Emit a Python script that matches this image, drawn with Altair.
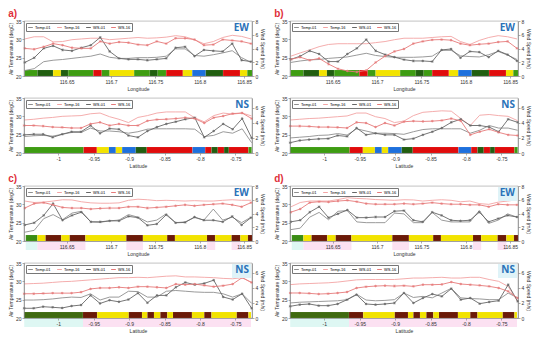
import altair as alt
import pandas as pd

# ---------------- shared x positions ----------------
LON = [116.6029, 116.6135, 116.6242, 116.6348, 116.6454, 116.6560, 116.6666, 116.6773, 116.6879,
       116.6985, 116.7091, 116.7197, 116.7304, 116.7410, 116.7516, 116.7622, 116.7728, 116.7835,
       116.7941, 116.8047, 116.8153, 116.8259, 116.8366, 116.8472, 116.8578]
LAT = [-1.0482, -1.0348, -1.0214, -1.0080, -0.9946, -0.9813, -0.9679, -0.9545, -0.9411, -0.9277,
       -0.9144, -0.9010, -0.8876, -0.8742, -0.8608, -0.8475, -0.8341, -0.8207, -0.8073, -0.7939,
       -0.7806, -0.7672, -0.7538, -0.7404, -0.7270]

LON_TICKS = [116.65, 116.7, 116.75, 116.8, 116.85]
LAT_TICKS = [-1, -0.95, -0.9, -0.85, -0.8, -0.75]
LON_DOMAIN = [116.602, 116.8589]
LAT_DOMAIN = [-1.0485, -0.7265]
TEMP_TICKS = [20, 25, 30, 35]

# ---------------- panel a ----------------
A_EW_T01 = [21.5, 22.0, 23.9, 24.3, 24.5, 24.8, 25.1, 25.4, 26.0, 25.1, 24.8, 24.8, 25.0, 25.0, 25.1, 25.4, 27.4, 27.4, 25.6, 25.4, 25.8, 26.3, 26.9, 25.0, 23.7]
A_EW_T16 = [30.1, 30.7, 30.7, 29.3, 29.4, 29.9, 30.1, 30.3, 30.3, 29.9, 30.1, 30.3, 30.5, 30.3, 30.4, 30.6, 31.0, 30.7, 29.9, 28.8, 29.4, 30.5, 31.1, 30.8, 30.1]
A_EW_W01 = [1.97, 2.65, 4.02, 4.39, 3.79, 3.66, 4.11, 4.48, 5.62, 3.57, 2.56, 2.42, 2.42, 2.29, 2.42, 2.56, 4.11, 4.25, 2.88, 3.79, 3.66, 3.57, 4.71, 2.29, 2.10]
A_EW_W16 = [4.02, 3.89, 4.25, 4.71, 4.48, 4.11, 4.02, 4.02, 5.03, 4.71, 4.94, 4.85, 4.57, 4.48, 5.03, 4.71, 5.49, 5.49, 5.30, 4.48, 4.57, 5.30, 5.17, 5.03, 4.71]
A_NS_T01 = [24.5, 24.7, 24.8, 24.6, 25.1, 25.6, 25.6, 26.8, 26.0, 26.0, 25.8, 25.4, 25.8, 26.5, 26.6, 26.6, 26.6, 26.6, 26.5, 24.5, 24.8, 25.8, 25.4, 26.6, 22.8]
A_NS_T16 = [29.0, 29.2, 29.5, 29.7, 30.0, 30.1, 30.2, 30.7, 30.9, 29.9, 29.2, 28.3, 29.7, 30.2, 30.9, 31.2, 31.2, 31.2, 29.6, 28.5, 30.2, 30.9, 30.6, 30.9, 30.1]
A_NS_W01 = [2.41, 2.49, 2.49, 2.08, 2.49, 2.82, 2.82, 3.65, 2.61, 3.24, 3.15, 2.32, 2.08, 2.91, 3.44, 3.86, 4.15, 4.48, 4.69, 2.08, 2.91, 3.86, 3.15, 4.57, 1.99]
A_NS_W16 = [3.65, 3.65, 3.57, 3.44, 3.40, 3.32, 3.32, 3.86, 4.07, 3.65, 3.86, 3.65, 3.65, 4.27, 4.44, 4.48, 4.57, 4.69, 4.57, 3.98, 4.69, 4.90, 5.23, 5.31, 4.57]

# ---------------- panel b ----------------
B_EW_T01 = [23.7, 24.1, 24.4, 24.5, 24.8, 25.0, 25.2, 25.7, 26.2, 25.6, 25.3, 25.1, 25.1, 25.1, 25.2, 25.4, 27.0, 27.0, 25.5, 25.3, 25.2, 25.8, 26.7, 25.7, 24.5]
B_EW_T16 = [25.4, 26.3, 27.1, 28.0, 28.6, 28.8, 28.8, 28.8, 28.8, 29.1, 29.4, 29.9, 30.3, 30.3, 30.3, 30.5, 30.7, 30.8, 29.4, 28.6, 29.7, 30.5, 31.0, 30.7, 30.1]
B_EW_W01 = [2.42, 2.88, 3.66, 3.20, 2.10, 2.10, 3.20, 4.02, 5.30, 3.66, 3.11, 2.74, 2.38, 2.19, 2.19, 2.10, 3.79, 3.93, 2.65, 3.57, 3.47, 2.74, 3.66, 3.11, 2.19]
B_EW_W16 = [2.42, 2.74, 2.29, 2.56, 1.74, 1.05, 0.73, 0.59, 0.82, 1.97, 2.88, 3.57, 3.93, 4.71, 5.03, 5.26, 5.30, 5.21, 4.71, 4.48, 4.62, 4.71, 4.94, 5.03, 4.02]
B_NS_T01 = [24.1, 24.3, 24.5, 24.8, 24.9, 25.3, 24.9, 26.6, 26.0, 25.4, 25.4, 25.3, 25.1, 25.8, 26.4, 26.6, 26.6, 26.6, 26.6, 25.4, 26.2, 27.5, 26.8, 26.8, 26.2]
B_NS_T16 = [29.0, 29.2, 29.4, 29.5, 29.7, 29.9, 30.1, 30.9, 30.9, 29.9, 29.4, 28.3, 28.7, 30.2, 31.1, 31.3, 31.5, 31.4, 29.4, 27.5, 30.3, 30.5, 30.2, 30.0, 28.8]
B_NS_W01 = [1.37, 1.66, 1.78, 1.87, 1.91, 2.32, 2.20, 3.32, 2.41, 2.61, 2.41, 2.41, 1.78, 1.91, 2.41, 2.82, 3.32, 4.07, 4.48, 3.65, 3.65, 3.44, 2.82, 4.48, 4.07]
B_NS_W16 = [3.57, 3.57, 3.53, 3.44, 3.44, 3.40, 3.32, 4.07, 3.98, 3.44, 3.98, 3.65, 4.15, 4.23, 4.19, 4.23, 4.32, 4.57, 4.27, 2.41, 2.82, 3.15, 2.74, 2.41, 2.32]

# ---------------- panel c ----------------
C_EW_T01 = [22.4, 22.9, 26.1, 27.2, 25.8, 27.6, 28.1, 25.2, 25.1, 25.5, 25.7, 27.2, 26.5, 25.2, 25.7, 27.4, 25.0, 25.2, 26.4, 25.7, 28.7, 25.7, 26.5, 25.0, 26.5]
C_EW_T16 = [30.9, 30.5, 30.6, 30.9, 31.25, 31.2, 30.7, 30.4, 30.3, 30.3, 30.4, 31.1, 31.4, 31.25, 31.0, 31.1, 31.0, 30.9, 31.0, 30.9, 30.9, 31.1, 31.25, 31.1, 31.1]
C_EW_W01 = [2.33, 2.65, 3.72, 5.44, 3.02, 3.72, 4.19, 2.79, 2.79, 2.93, 2.93, 3.58, 3.40, 2.28, 2.47, 3.81, 2.65, 2.70, 3.49, 3.02, 3.02, 2.79, 3.58, 2.33, 3.40]
C_EW_W16 = [4.79, 5.44, 5.58, 5.26, 4.88, 4.79, 4.79, 4.65, 4.74, 4.79, 4.79, 4.98, 4.98, 4.79, 4.88, 4.98, 5.12, 5.26, 5.12, 5.26, 5.35, 5.44, 5.26, 4.98, 5.58]
C_NS_T01 = [24.9, 24.9, 25.0, 25.2, 25.5, 25.7, 25.6, 26.6, 24.9, 25.7, 25.7, 27.3, 27.2, 25.7, 25.7, 27.3, 27.5, 27.3, 27.1, 27.0, 27.0, 26.6, 25.7, 26.6, 24.0]
C_NS_T16 = [29.3, 29.4, 29.5, 29.7, 29.9, 30.0, 30.2, 30.4, 30.6, 30.8, 31.0, 31.0, 31.1, 31.0, 31.2, 31.4, 31.5, 31.2, 31.2, 31.1, 31.0, 30.8, 30.7, 31.0, 29.6]
C_NS_W01 = [1.29, 1.29, 1.50, 1.42, 1.33, 1.59, 1.72, 3.00, 1.93, 2.36, 2.15, 2.45, 3.30, 2.02, 3.00, 3.00, 4.08, 4.72, 4.42, 4.59, 5.02, 2.79, 2.45, 3.22, 1.29]
C_NS_W16 = [3.22, 3.22, 3.26, 3.30, 3.30, 3.30, 3.43, 3.86, 3.99, 3.99, 4.08, 3.99, 4.16, 4.16, 4.08, 3.99, 4.50, 4.42, 4.50, 4.33, 4.16, 4.29, 4.50, 5.36, 4.72]

# ---------------- panel d ----------------
D_EW_T01 = [23.1, 23.5, 26.5, 27.8, 25.8, 28.1, 28.3, 25.2, 25.0, 25.0, 25.0, 27.6, 27.4, 25.0, 25.0, 27.8, 25.7, 25.2, 25.2, 25.2, 28.3, 24.8, 25.7, 27.4, 26.5]
D_EW_T16 = [29.3, 30.5, 30.9, 30.9, 30.9, 31.3, 31.8, 31.6, 31.5, 31.3, 31.2, 31.1, 31.25, 31.2, 30.9, 31.1, 31.25, 31.1, 30.7, 30.9, 30.2, 30.0, 30.6, 30.9, 31.25]
D_EW_W01 = [2.79, 3.02, 4.19, 4.98, 3.40, 3.95, 4.51, 3.40, 3.40, 3.49, 3.49, 4.33, 4.42, 3.02, 2.79, 4.19, 3.72, 3.02, 2.93, 3.02, 4.19, 2.79, 3.26, 3.72, 3.49]
D_EW_W16 = [4.19, 4.65, 5.58, 5.72, 5.67, 5.81, 5.91, 5.72, 5.44, 5.35, 5.35, 5.35, 5.44, 5.35, 5.44, 5.58, 5.44, 5.35, 5.35, 5.26, 5.26, 4.98, 5.35, 5.26, 5.26]
D_NS_T01 = [24.1, 24.3, 24.4, 24.5, 24.6, 24.7, 25.0, 26.5, 24.9, 24.7, 24.8, 25.0, 26.8, 25.6, 25.9, 25.5, 26.8, 28.1, 25.5, 25.3, 25.2, 25.0, 25.0, 26.8, 25.5]
D_NS_T16 = [29.1, 29.3, 29.4, 29.5, 29.6, 29.8, 30.1, 30.4, 30.5, 30.5, 30.5, 30.5, 30.7, 30.9, 30.9, 31.0, 31.1, 30.9, 30.9, 31.1, 31.1, 30.5, 30.0, 28.6, 24.5]
D_NS_W01 = [1.55, 1.77, 1.86, 1.64, 1.64, 1.86, 2.43, 3.09, 1.86, 1.77, 1.86, 1.99, 3.32, 1.99, 2.65, 3.18, 2.87, 3.89, 2.43, 2.65, 1.90, 2.12, 2.30, 4.42, 2.21]
D_NS_W16 = [3.32, 3.32, 3.27, 3.18, 3.23, 3.32, 3.45, 3.98, 4.15, 4.24, 4.29, 4.24, 4.29, 4.20, 4.42, 4.42, 4.46, 4.77, 4.51, 4.42, 4.33, 4.20, 3.98, 3.54, 2.65]

# ---------------- category strips ----------------
EW_AB_EDGES = [116.6029, 116.6171, 116.6348, 116.6436, 116.6518, 116.6801, 116.6896, 116.6985, 116.7261,
               116.7438, 116.7527, 116.7622, 116.7810, 116.7916, 116.8068, 116.8263, 116.8454, 116.8536, 116.8589]
EW_AB_CATS = ["G", "D", "Y", "D", "G", "R", "G", "Y", "G", "D", "G", "R", "Y", "B", "D", "R", "Y", "G"]
NS_AB_EDGES = [-1.0482, -0.9643, -0.9456, -0.9286, -0.9188, -0.9099, -0.8907, -0.8751, -0.8105, -0.7926,
               -0.7837, -0.7748, -0.7659, -0.7592, -0.7315, -0.7270]
NS_AB_CATS = ["G", "R", "Y", "B", "Y", "B", "D", "R", "B", "R", "D", "R", "D", "R", "G"]
EW_CD_EDGES = [116.6040, 116.6171, 116.6263, 116.6440, 116.6535, 116.6712, 116.7173, 116.7360, 116.7633,
               116.7721, 116.8082, 116.8174, 116.8359, 116.8458, 116.8543, 116.8589]
EW_CD_CATS = ["G2", "Y", "N", "Y", "N", "Y", "N", "Y", "N", "Y", "N", "Y", "N", "Y", "N"]
NS_CD_EDGES = [-1.0482, -0.9652, -0.9451, -0.9005, -0.8818, -0.8742, -0.8649, -0.8559, -0.8461, -0.8381,
               -0.8113, -0.7939, -0.7837, -0.7480, -0.7315, -0.7279]
NS_CD_CATS = ["O", "N", "Y", "N", "Y", "N", "Y", "N", "Y", "N", "Y", "N", "Y", "N", "Y"]

EW_CD_SHADE_START = [116.6040, 116.6171, 116.7173, 116.8082, 116.8359]
EW_CD_SHADE_END = [116.6171, 116.6712, 116.7360, 116.8174, 116.8458]
EW_CD_SHADE_KIND = ["c", "p", "p", "p", "p"]
NS_CD_SHADE_START = [-1.0482, -0.9652]
NS_CD_SHADE_END = [-0.9652, -0.7279]
NS_CD_SHADE_KIND = ["c", "p"]

PALETTE = {"G": "#3e9c12", "D": "#215e10", "Y": "#f2e300", "R": "#e00c0c", "B": "#1e70dc",
           "N": "#6b1a08", "G2": "#3a8c14", "O": "#3f6a10"}
SHADE_COL = {"c": "#d6f5f0", "p": "#fbd9ef"}

SERIES = ["Temp-01", "Temp-16", "WS-01", "WS-16"]
SERIES_COLORS = ["#8f8f8f", "#f3a4a4", "#666666", "#e67a7a"]

W, H = 228, 55
FONT = "Liberation Sans"


def subplot(xs, xtitle, xdom, xticks, t01, t16, w01, w16, edges, cats, wmax, wticks, tag,
            shade=None, tag_bg=False):
    n = len(xs)
    temp_df = pd.DataFrame({"x": xs + xs, "v": t01 + t16, "s": ["Temp-01"] * n + ["Temp-16"] * n})
    wind_df = pd.DataFrame({"x": xs + xs, "v": w01 + w16, "s": ["WS-01"] * n + ["WS-16"] * n})
    strip_df = pd.DataFrame({"x": edges[:-1], "x2": edges[1:], "c": [PALETTE[c] for c in cats]})
    xscale = alt.Scale(domain=xdom, nice=False, zero=False)
    xaxis = alt.Axis(values=xticks, title=xtitle, labelExpr="'' + datum.value", grid=False, zindex=2)
    xenc = alt.X("x:Q", scale=xscale, axis=xaxis)
    color = alt.Color("s:N", scale=alt.Scale(domain=SERIES, range=SERIES_COLORS),
                      legend=alt.Legend(title=None, orient="top-left", direction="horizontal",
                                        labelFontSize=4, labelFont=FONT, symbolSize=22,
                                        symbolStrokeWidth=1, symbolType="stroke",
                                        columnPadding=3, padding=1.5, offset=2,
                                        fillColor="white", strokeColor="#777",
                                        labelOffset=1.5, rowPadding=0, labelLimit=40))
    layers = []
    if shade is not None:
        sdf = pd.DataFrame({"x": shade[0], "x2": shade[1], "c": [SHADE_COL[k] for k in shade[2]]})
        layers.append(alt.Chart(sdf).mark_rect(opacity=0.8).encode(
            x=xenc, x2="x2:Q",
            y=alt.value(H), y2=alt.value(H + 9), fill=alt.Fill("c:N", scale=None)))
    layers.append(alt.Chart(strip_df).mark_rect(stroke="#ffffff", strokeWidth=0.15, strokeOpacity=0.5).encode(
        x=xenc, x2="x2:Q",
        y=alt.value(H - 6), y2=alt.value(H), fill=alt.Fill("c:N", scale=None)))
    layers.append(alt.Chart(temp_df).mark_line(strokeWidth=0.9).encode(
        x=xenc,
        y=alt.Y("v:Q", scale=alt.Scale(domain=[20, 35], nice=False, zero=False),
                axis=alt.Axis(orient="left", values=TEMP_TICKS, title="Air Temperature (degC)",
                              grid=False, zindex=2)),
        color=color))
    layers.append(alt.Chart(wind_df).mark_line(
        strokeWidth=0.9,
        point=alt.OverlayMarkDef(shape="M-1,0L1,0M0,-1L0,1M-0.7,-0.7L0.7,0.7M-0.7,0.7L0.7,-0.7",
                                 filled=False, size=7, strokeWidth=0.6)).encode(
        x=xenc,
        y=alt.Y("v:Q", scale=alt.Scale(domain=[0, wmax], nice=False, zero=True),
                axis=alt.Axis(orient="right", values=wticks, title="Wind Speed (m/s)",
                              grid=False, zindex=2)),
        color=color))
    if tag_bg:
        layers.append(alt.Chart(pd.DataFrame({"a": [0]})).mark_rect(fill="#dff3f8").encode(
            x=alt.value(W - 20), x2=alt.value(W - 1), y=alt.value(1), y2=alt.value(15)))
    layers.append(alt.Chart(pd.DataFrame({"a": [0]})).mark_text(
        text=tag, color="#2a72b8", fontSize=10, fontWeight="bold", font="Open Sans",
        align="right", baseline="top").encode(x=alt.value(W - 3), y=alt.value(2)))
    return alt.layer(*layers).resolve_scale(y="independent").properties(width=W, height=H)


def panel(letter, ew, ns):
    return alt.vconcat(ew, ns, spacing=3,
                       title=alt.TitleParams(letter, anchor="start", color="#e0303a", fontSize=10,
                                             fontWeight="bold", font=FONT, offset=0)
                       ).resolve_scale(x="independent", y="independent", color="independent"
                                       ).resolve_legend(color="independent")


pa = panel("a)",
           subplot(LON, "Longitude", LON_DOMAIN, LON_TICKS, A_EW_T01, A_EW_T16, A_EW_W01, A_EW_W16,
                   EW_AB_EDGES, EW_AB_CATS, 8, [0, 2, 4, 6, 8], "EW"),
           subplot(LAT, "Latitude", LAT_DOMAIN, LAT_TICKS, A_NS_T01, A_NS_T16, A_NS_W01, A_NS_W16,
                   NS_AB_EDGES, NS_AB_CATS, 7.3, [0, 2, 4, 6], "NS"))
pb = panel("b)",
           subplot(LON, "Longitude", LON_DOMAIN, LON_TICKS, B_EW_T01, B_EW_T16, B_EW_W01, B_EW_W16,
                   EW_AB_EDGES, EW_AB_CATS, 8, [0, 2, 4, 6, 8], "EW"),
           subplot(LAT, "Latitude", LAT_DOMAIN, LAT_TICKS, B_NS_T01, B_NS_T16, B_NS_W01, B_NS_W16,
                   NS_AB_EDGES, NS_AB_CATS, 7.3, [0, 2, 4, 6], "NS"))
pc = panel("c)",
           subplot(LON, "Longitude", LON_DOMAIN, LON_TICKS, C_EW_T01, C_EW_T16, C_EW_W01, C_EW_W16,
                   EW_CD_EDGES, EW_CD_CATS, 8, [0, 2, 4, 6, 8], "EW",
                   shade=(EW_CD_SHADE_START, EW_CD_SHADE_END, EW_CD_SHADE_KIND)),
           subplot(LAT, "Latitude", LAT_DOMAIN, LAT_TICKS, C_NS_T01, C_NS_T16, C_NS_W01, C_NS_W16,
                   NS_CD_EDGES, NS_CD_CATS, 7.3, [0, 2, 4, 6], "NS",
                   shade=(NS_CD_SHADE_START, NS_CD_SHADE_END, NS_CD_SHADE_KIND), tag_bg=True))
pd_ = panel("d)",
            subplot(LON, "Longitude", LON_DOMAIN, LON_TICKS, D_EW_T01, D_EW_T16, D_EW_W01, D_EW_W16,
                    EW_CD_EDGES, EW_CD_CATS, 8, [0, 2, 4, 6, 8], "EW",
                    shade=(EW_CD_SHADE_START, EW_CD_SHADE_END, EW_CD_SHADE_KIND), tag_bg=True),
            subplot(LAT, "Latitude", LAT_DOMAIN, LAT_TICKS, D_NS_T01, D_NS_T16, D_NS_W01, D_NS_W16,
                    NS_CD_EDGES, NS_CD_CATS, 7.3, [0, 2, 4, 6], "NS",
                    shade=(NS_CD_SHADE_START, NS_CD_SHADE_END, NS_CD_SHADE_KIND), tag_bg=True))

row1 = alt.hconcat(pa, pb, spacing=8).resolve_scale(
    x="independent", y="independent", color="independent").resolve_legend(color="independent")
row2 = alt.hconcat(pc, pd_, spacing=8).resolve_scale(
    x="independent", y="independent", color="independent").resolve_legend(color="independent")

chart = alt.vconcat(row1, row2, spacing=4).resolve_scale(
    x="independent", y="independent", color="independent").resolve_legend(color="independent"
).properties(padding={"left": 0, "top": 0, "right": 0, "bottom": 0}
).configure_view(stroke="#999999", strokeWidth=0.6
).configure_axis(labelFontSize=5, titleFontSize=5, titleFontWeight="normal", labelPadding=1,
                 tickSize=2, titlePadding=2, domainColor="#777777", tickColor="#777777",
                 labelColor="#333333", titleColor="#333333", labelFont=FONT, titleFont=FONT,
                 domainWidth=0.6, tickWidth=0.6)

chart.save("out.html", embed_options={"renderer": "svg", "actions": False})
